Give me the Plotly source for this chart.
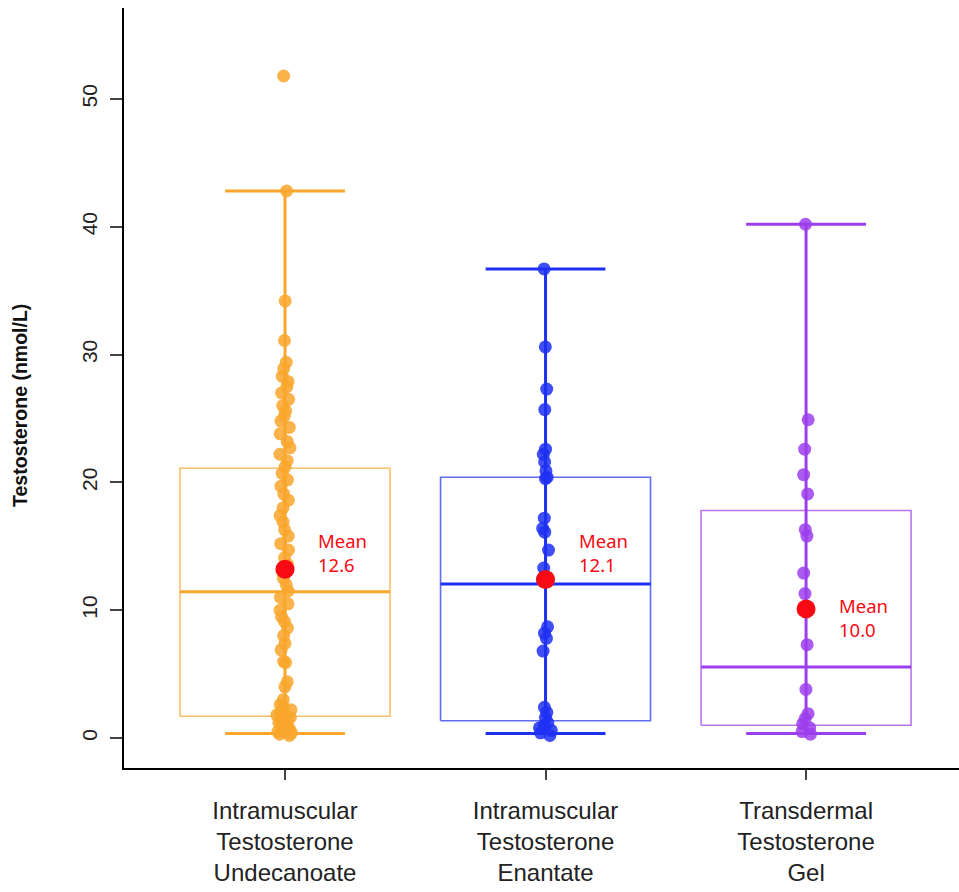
import plotly.graph_objects as go

# ---------------- data ----------------
categories = [
    "Intramuscular<br>Testosterone<br>Undecanoate",
    "Intramuscular<br>Testosterone<br>Enantate",
    "Transdermal<br>Testosterone<br>Gel",
]
positions = [1, 2, 3]

undecanoate = [
    51.8, 42.8, 34.2, 31.1, 29.4, 28.9, 28.3, 27.9, 27.5, 27.0, 26.5, 26.0,
    25.6, 25.2, 24.8, 24.3, 23.8, 23.2, 22.7, 22.2, 21.7, 21.2, 20.7, 20.2,
    19.7, 19.1, 18.6, 18.0, 17.4, 16.9, 16.3, 15.8, 15.2, 14.7, 14.1, 13.6,
    13.1, 12.5, 12.0, 11.5, 11.0, 10.5, 10.0, 9.5, 9.1, 8.6, 8.0, 7.4, 6.9,
    6.0, 5.9, 4.4, 4.0, 3.0, 2.6, 2.4, 2.2, 2.0, 1.8, 1.6, 1.5, 1.3, 1.2,
    1.0, 0.9, 0.8, 0.7, 0.6, 0.5, 0.4, 0.3, 0.2,
]
enantate = [
    36.7, 30.6, 27.3, 25.7, 22.6, 22.2, 21.6, 20.9, 20.4, 20.3, 17.2, 16.4,
    16.1, 14.7, 13.3, 12.4, 8.7, 8.2, 7.8, 6.8, 2.4, 2.0, 1.6, 1.2, 1.0,
    0.8, 0.6, 0.4, 0.2,
]
gel = [
    40.2, 24.9, 22.6, 20.6, 19.1, 16.3, 15.8, 12.9, 11.3, 7.3, 3.8, 1.9,
    1.5, 1.1, 0.8, 0.5, 0.3,
]
groups = [undecanoate, enantate, gel]

q1 = [1.7, 1.35, 1.0]
median = [11.45, 12.05, 5.55]
q3 = [21.1, 20.4, 17.8]
lower_whisker = [0.35, 0.35, 0.35]
upper_whisker = [42.8, 36.7, 40.2]

mean_marker = [13.2, 12.4, 10.1]
mean_labels = ["12.6", "12.1", "10.0"]
mean_label_y = [14.5, 14.55, 9.45]

y_ticks = [0, 10, 20, 30, 40, 50]
y_title = "Testosterone (nmol/L)"

# ---------------- style ----------------
colors = ["#F9A62C", "#1E30F2", "#9C3EEC"]
box_half = 0.403
cap_half = 0.23

fig = go.Figure()

for p, c, a, m, b, lo, hi in zip(positions, colors, q1, median, q3,
                                  lower_whisker, upper_whisker):
    # box outline (thin)
    fig.add_trace(go.Scatter(
        x=[p - box_half, p + box_half, p + box_half, p - box_half, p - box_half],
        y=[a, a, b, b, a],
        mode="lines", line=dict(color=c, width=1.6), opacity=0.7,
        hoverinfo="skip", showlegend=False))
    # whiskers + caps + median (thick)
    fig.add_trace(go.Scatter(
        x=[p, p, None, p - cap_half, p + cap_half, None,
           p - cap_half, p + cap_half, None, p - box_half, p + box_half],
        y=[lo, hi, None, hi, hi, None, lo, lo, None, m, m],
        mode="lines", line=dict(color=c, width=3),
        hoverinfo="skip", showlegend=False))

for p, c, vals in zip(positions, colors, groups):
    fig.add_trace(go.Box(
        x=[p] * len(vals), y=vals,
        boxpoints="all", jitter=0.08, pointpos=0, width=2 * box_half,
        fillcolor="rgba(0,0,0,0)", line=dict(width=0, color="rgba(0,0,0,0)"),
        marker=dict(color=c, size=13, opacity=0.85),
        showlegend=False, hoverinfo="y"))

fig.add_trace(go.Scatter(
    x=positions, y=mean_marker, mode="markers",
    marker=dict(color="#F80A14", size=19),
    hoverinfo="y", showlegend=False))

for p, lab, ly in zip(positions, mean_labels, mean_label_y):
    fig.add_annotation(
        x=p + 0.119, y=ly, xref="x", yref="y",
        text="Mean<br>" + lab, showarrow=False, align="left",
        xanchor="left", yanchor="middle",
        font=dict(family="Noto Sans", size=18.5, color="#F80A14"))

fig.add_annotation(
    x=-0.1246, y=0.4776, xref="paper", yref="paper",
    text="<b>" + y_title + "</b>", textangle=-90, showarrow=False,
    xanchor="center", yanchor="middle",
    font=dict(size=19.5, color="#111"))

fig.update_layout(
    width=959, height=892,
    margin=dict(l=124, r=0, t=8, b=124),
    plot_bgcolor="white", paper_bgcolor="white",
    font=dict(family="Liberation Sans, Arial, sans-serif", color="#222222"),
    xaxis=dict(
        range=[0.382, 3.587], tickmode="array", tickvals=positions,
        ticktext=categories, showgrid=False, zeroline=False,
        showline=True, linecolor="black", linewidth=2,
        ticks="outside", ticklen=10, tickwidth=1.5, tickcolor="#444",
        tickfont=dict(size=24, color="#222"), ticklabelstandoff=10,
    ),
    yaxis=dict(
        range=[-2.35, 57.12], tickmode="array", tickvals=y_ticks,
        showgrid=False, zeroline=False,
        showline=True, linecolor="black", linewidth=2,
        ticks="outside", ticklen=12, tickwidth=1.5, tickcolor="#444",
        tickangle=-90, tickfont=dict(size=21, color="#222"),
        ticklabelstandoff=5,
    ),
)

fig.write_html("out.html")
